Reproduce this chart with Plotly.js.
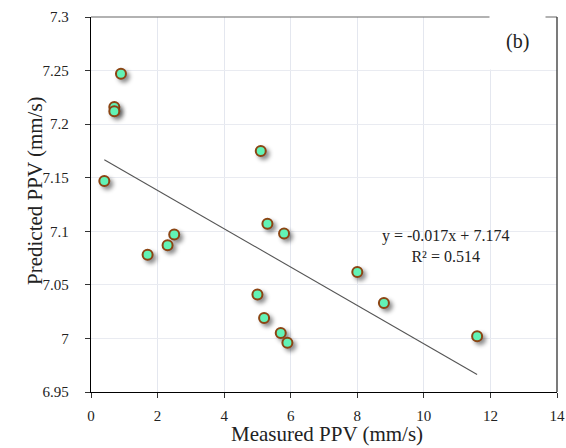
<!DOCTYPE html>
<html>
<head>
<meta charset="utf-8">
<script src="https://cdn.plot.ly/plotly-3.0.1.min.js"></script>
<style>html,body{margin:0;padding:0;background:#fff;}#chart{width:566px;height:448px;}</style>
</head>
<body>
<div id="chart"></div>
<script>
// Data
const measuredPPV = [0.4, 0.9, 0.7, 0.7, 5.1, 5.3, 5.8, 2.5, 2.3, 1.7, 8.0, 8.8, 5.0, 5.2, 5.7, 5.9, 11.6];
const predictedPPV = [7.147, 7.247, 7.216, 7.212, 7.175, 7.107, 7.098, 7.097, 7.087, 7.078, 7.062, 7.033, 7.041, 7.019, 7.005, 6.996, 7.002];
const trendSlope = -0.0179;
const trendIntercept = 7.174;
const equationText = "y = -0.017x + 7.174<br>R² = 0.514";
const panelLabel = "(b)";
const xTitle = "Measured PPV (mm/s)";
const yTitle = "Predicted PPV (mm/s)";
const xTicks = [0, 2, 4, 6, 8, 10, 12, 14];
const yTicks = [6.95, 7, 7.05, 7.1, 7.15, 7.2, 7.25, 7.3];
const yTickText = ["6.95", "7", "7.05", "7.1", "7.15", "7.2", "7.25", "7.3"];

const xMin = Math.min(...measuredPPV), xMax = Math.max(...measuredPPV);
const trendX = [xMin, xMax];
const trendY = trendX.map(x => trendIntercept + trendSlope * x);

const serif = "Liberation Serif";

const traces = [
  {
    x: trendX, y: trendY, type: "scatter", mode: "lines",
    line: {color: "#555555", width: 1.1}, hoverinfo: "skip", showlegend: false
  },
  {
    x: measuredPPV, y: predictedPPV, type: "scatter", mode: "markers",
    marker: {size: 10, color: "#62f3b6", line: {color: "#8b4513", width: 2}},
    showlegend: false
  }
];

const layout = {
  width: 566, height: 448,
  margin: {l: 91, r: 9, t: 17, b: 56},
  paper_bgcolor: "#ffffff", plot_bgcolor: "#ffffff",
  font: {family: serif},
  showlegend: false,
  xaxis: {
    range: [0, 14], tickvals: xTicks, ticktext: xTicks.map(String),
    showgrid: true, gridcolor: "#e4e7ef", gridwidth: 1,
    zeroline: false, showline: true, linecolor: "#000000", linewidth: 1.3,
    mirror: false, ticks: "outside", ticklen: 5, tickcolor: "#333333",
    ticklabelstandoff: 5,
    tickfont: {family: serif, size: 15, color: "#222222"}
  },
  yaxis: {
    range: [6.95, 7.3], tickvals: yTicks, ticktext: yTickText,
    showgrid: true, gridcolor: "#e9ebf1", gridwidth: 1,
    zeroline: false, showline: true, linecolor: "#000000", linewidth: 1.3,
    ticks: "outside", ticklen: 5, tickcolor: "#333333",
    ticklabelstandoff: 13,
    tickfont: {family: serif, size: 15, color: "#222222"}
  },
  shapes: [
    {type: "line", xref: "paper", yref: "paper", x0: 0, x1: 1, y0: 1, y1: 1, line: {color: "#666666", width: 1.2}},
    {type: "line", xref: "paper", yref: "paper", x0: 1, x1: 1, y0: 0, y1: 1, line: {color: "#333333", width: 1.3}}
  ],
  annotations: [
    {text: equationText, x: 10.65, y: 7.086, xref: "x", yref: "y", showarrow: false,
     font: {family: serif, size: 16, color: "#222222"}, align: "center"},
    {text: panelLabel, x: 12.8, y: 7.277, xref: "x", yref: "y", showarrow: false,
     bgcolor: "#ffffff", borderpad: 16,
     font: {family: serif, size: 20, color: "#222222"}},
    {text: xTitle, showarrow: false,
     font: {family: serif, size: 21, color: "#222222"}},
    {text: yTitle, textangle: -90, showarrow: false,
     font: {family: serif, size: 21, color: "#222222"}}
  ]
};
// place the title annotations (pixel centres converted to paper coordinates)
const W = 566, H = 448, m = layout.margin;
const pw = W - m.l - m.r, ph = H - m.t - m.b;
Object.assign(layout.annotations[2], {xref: "paper", yref: "paper",
  x: (327 - m.l) / pw, y: (H - m.b - 434) / ph, yanchor: "middle"});
Object.assign(layout.annotations[3], {xref: "paper", yref: "paper",
  x: (21 - m.l) / pw, y: (H - m.b - 191) / ph});

Plotly.newPlot("chart", traces, layout, {displayModeBar: false, staticPlot: true}).then(() => {
  document.querySelectorAll(".scatterlayer .trace:nth-child(2) .points path").forEach(p => {
    p.style.filter = "drop-shadow(3px 3px 2px rgba(0,0,0,0.45))";
  });
});
</script>
</body>
</html>
